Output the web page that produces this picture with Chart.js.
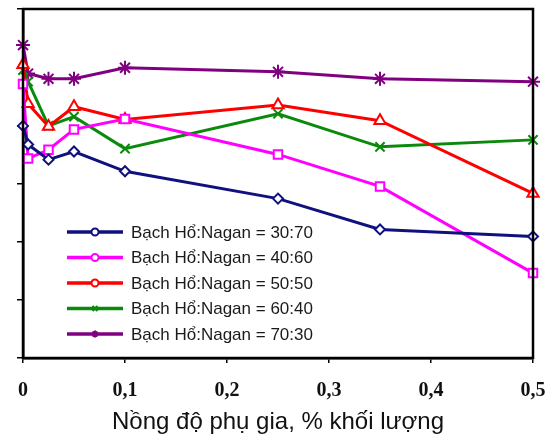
<!DOCTYPE html>
<html>
<head>
<meta charset="utf-8">
<script src="https://cdn.jsdelivr.net/npm/chart.js@4/dist/chart.umd.min.js"></script>
<style>
  html, body { margin: 0; padding: 0; background: #fff; }
  #wrap { width: 557px; height: 440px; }
</style>
</head>
<body>
<div id="wrap"><canvas id="c" width="557" height="440"></canvas></div>
<script>
// nồng độ phụ gia (% khối lượng)
const concentrations = [0, 0.005, 0.025, 0.05, 0.1, 0.25, 0.35, 0.5];

const seriesLabels = [
    'Bạch Hổ:Nagan = 30:70',
    'Bạch Hổ:Nagan = 40:60',
    'Bạch Hổ:Nagan = 50:50',
    'Bạch Hổ:Nagan = 60:40',
    'Bạch Hổ:Nagan = 70:30'
];

// giá trị (trục y không có nhãn)
const ratio30_70 = [39.9, 36.7, 34.1, 35.5, 32.1, 27.4, 22.1, 20.9];
const ratio40_60 = [47.1, 34.3, 35.8, 39.3, 41.1, 35.0, 29.5, 14.6];
const ratio50_50 = [50.4, 43.7, 39.8, 43.2, 41.0, 43.5, 40.8, 28.3];
const ratio60_40 = [49.5, 47.5, 39.9, 41.5, 36.0, 42.0, 36.3, 37.5];
const ratio70_30 = [53.8, 48.9, 48.0, 48.0, 49.9, 49.2, 48.0, 47.5];

const xTicks = [0, 0.1, 0.2, 0.3, 0.4, 0.5];

const colors = ['#10107e', '#ff00ff', '#ff0000', '#0a8a0a', '#800080'];
const pointStyles = ['rectRot', 'rect', 'triangle', 'crossRot', 'star'];
const pointSizes = [5, 6, 6.5, 6.5, 7];
const legendStyles = ['circle', 'circle', 'circle', 'crossRot', 'star'];

const allSeries = [ratio30_70, ratio40_60, ratio50_50, ratio60_40, ratio70_30];

const datasets = allSeries.map((vals, i) => ({
    label: seriesLabels[i],
    data: vals.map((v, k) => ({ x: concentrations[k], y: v })),
    borderColor: colors[i],
    backgroundColor: '#fff',
    borderWidth: 3,
    pointStyle: pointStyles[i],
    pointRadius: pointSizes[i],
    pointBorderWidth: 2,
    pointBackgroundColor: '#fff',
    pointBorderColor: colors[i],
    tension: 0,
    clip: false
}));

// khung viền + chú thích bên trong vùng vẽ
const boxAndLegend = {
    id: 'boxAndLegend',
    afterDraw(chart) {
        const ctx = chart.ctx;
        const a = chart.chartArea;
        ctx.save();
        ctx.strokeStyle = '#000';
        ctx.lineWidth = 2.5;
        ctx.strokeRect(a.left, a.top, a.right - a.left, a.bottom - a.top);

        ctx.font = '17px "Liberation Sans", Arial, sans-serif';
        ctx.textBaseline = 'middle';
        chart.data.datasets.forEach((ds, i) => {
            const y = 232 + i * 25.5;
            ctx.strokeStyle = ds.borderColor;
            ctx.lineWidth = 3.5;
            ctx.beginPath();
            ctx.moveTo(67, y);
            ctx.lineTo(123, y);
            ctx.stroke();
            ctx.lineWidth = 2;
            ctx.fillStyle = '#fff';
            Chart.helpers.drawPoint(ctx, { pointStyle: legendStyles[i], radius: 3.5, borderWidth: 2 }, 95, y);
            ctx.fillStyle = '#1a1a1a';
            ctx.fillText(ds.label, 131, y + 1);
        });
        ctx.restore();
    }
};

new Chart(document.getElementById('c'), {
    type: 'line',
    data: { datasets },
    options: {
        responsive: false,
        animation: false,
        layout: { padding: { top: 7, right: 24, left: 0, bottom: 0 } },
        plugins: { legend: { display: false }, tooltip: { enabled: false } },
        scales: {
            x: {
                type: 'linear',
                min: 0,
                max: 0.5,
                afterBuildTicks: (s) => { s.ticks = xTicks.map(v => ({ value: v })); },
                afterFit: (s) => { s.height = 82; s.paddingLeft = 0; s.paddingRight = 0; },
                border: { display: true, color: '#000', width: 2.5 },
                grid: { drawOnChartArea: false, drawTicks: true, tickLength: 5, color: '#000', lineWidth: 1.5 },
                ticks: {
                    padding: 16,
                    color: '#111',
                    font: { family: '"Liberation Serif", "Times New Roman", serif', size: 20, weight: 'bold' },
                    callback: (v) => String(v).replace('.', ',')
                },
                title: {
                    display: true,
                    text: 'Nồng độ phụ gia, % khối lượng',
                    color: '#111',
                    padding: { top: 0, bottom: 3 },
                    font: { family: '"Liberation Sans", Arial, sans-serif', size: 24 }
                }
            },
            y: {
                min: 0,
                max: 60,
                afterFit: (s) => { s.width = 23; },
                border: { display: true, color: '#000', width: 2.5 },
                grid: { drawOnChartArea: false, drawTicks: true, tickLength: 6, color: '#000', lineWidth: 1.5 },
                ticks: { display: false, stepSize: 10 }
            }
        }
    },
    plugins: [boxAndLegend]
});
</script>
</body>
</html>
